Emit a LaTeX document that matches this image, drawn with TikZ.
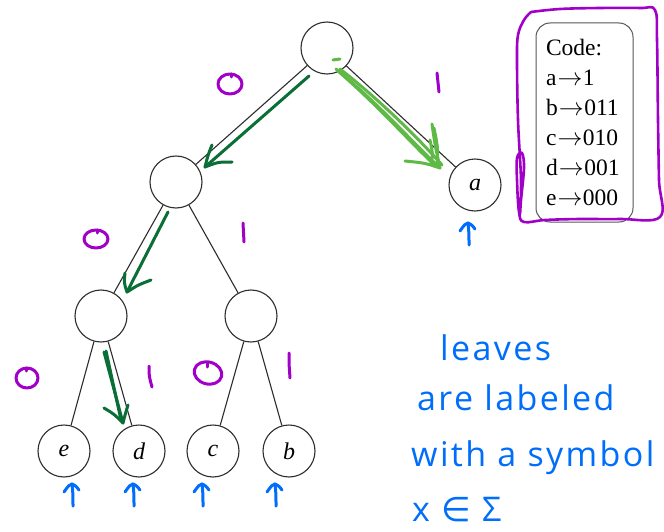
\documentclass[tikz,border=0pt]{standalone}
\usepackage{fontspec}
\setmainfont{Liberation Serif}
\newfontfamily\handfont[LetterSpace=7]{Open Sans}
\newfontfamily\symfont{DejaVu Sans}
\usetikzlibrary{calc}

\definecolor{inkpurple}{RGB}{160,0,200}
\definecolor{inkdkgreen}{RGB}{10,110,55}
\definecolor{inkltgreen}{RGB}{95,185,70}
\definecolor{inkblue}{RGB}{0,110,250}
\definecolor{edgegray}{RGB}{45,45,45}

\newcommand{\codearrow}{\kern0.05em$\to$\kern0.02em}

\begin{document}
\begin{tikzpicture}[x=1pt,y=-1pt,
  treenode/.style={circle,draw=edgegray,line width=1.1pt,minimum size=52pt,
    inner sep=0pt,font=\fontsize{24}{24}\selectfont\itshape},
  edge/.style={draw=edgegray,line width=1.1pt},
  pen/.style={line width=3pt,line cap=round,line join=round},
  codebox/.style={draw=edgegray!80,line width=1pt,rounded corners=14pt,
    minimum width=97pt,minimum height=199pt,text width=77pt,align=left,
    font=\fontsize{23.5}{30}\selectfont},
  hand/.style={text=inkblue,anchor=base west,inner sep=0pt,
    font=\handfont\fontsize{34}{34}\selectfont}
]
\useasboundingbox (0,0) rectangle (664,532);
\fill[white] (0,0) rectangle (664,532);

% ---- code tree ----
\node[treenode] (r)  at (327,48)  {};
\node[treenode] (l)  at (176,182) {};
\node[treenode] (a)  at (475,185) {a};
\node[treenode] (ll) at (101,316) {};
\node[treenode] (lr) at (251,316) {};
\node[treenode] (e)  at (64,451)  {e};
\node[treenode] (d)  at (139,451) {d};
\node[treenode] (c)  at (213,451) {c};
\node[treenode] (b)  at (289,451) {b};

\draw[edge] (r) -- (l);
\draw[edge] (r) -- (a);
\draw[edge] (l) -- (ll);
\draw[edge] (l) -- (lr);
\draw[edge] (ll) -- (e);
\draw[edge] (ll) -- (d);
\draw[edge] (lr) -- (c);
\draw[edge] (lr) -- (b);

% ---- code table ----
\node[codebox] (code) at (584.5,122.5)
  {Code:\\a\codearrow1\\b\codearrow011\\c\codearrow010\\d\codearrow001\\e\codearrow000};

% purple frame around the table
\draw[pen,inkpurple,line width=2.6pt] plot[smooth,tension=0.6] coordinates {
  (531,12) (560,9) (600,8) (640,8) (655,10) (657,40) (658,120) (659,180)
  (660,217) (620,219) (580,219) (545,220) (524,222) (519,212) (517,180)
  (517,158) (522,153) (524,168) (521,200) (520,214) (521,180) (518,120)
  (517,60) (518,35) (524,20) (531,12)};

% ---- bit labels ----
\draw[pen,inkpurple] (230,84) ellipse [x radius=12, y radius=10];
\draw[pen,inkpurple] (231,74) -- (231,77);
\draw[pen,inkpurple] (437,73) .. controls (438,82) .. (439,92);

\draw[pen,inkpurple] (96,239) ellipse [x radius=12, y radius=9];
\draw[pen,inkpurple] (97,230) -- (97,233);
\draw[pen,inkpurple] (243,223) .. controls (243,232) .. (244,242);

\draw[pen,inkpurple] (27,378) ellipse [x radius=11, y radius=10];
\draw[pen,inkpurple] (26,368) -- (26,371);
\draw[pen,inkpurple] (149,366) .. controls (149,376) .. (152,387);

\draw[pen,inkpurple,rotate around={-15:(208,373)}] (208,373) ellipse [x radius=14, y radius=11];
\draw[pen,inkpurple] (207,363) -- (207,367);
\draw[pen,inkpurple] (289,353) .. controls (289,364) .. (290,378);

% ---- path to d (dark green) ----
\draw[pen,inkdkgreen] (309,76) -- (205,167);
\draw[pen,inkdkgreen] (212,145) .. controls (208,155) .. (205,167) .. controls (218,162) .. (232,162);

\draw[pen,inkdkgreen] (168,212) -- (127,292);
\draw[pen,inkdkgreen] (125,273) .. controls (124,283) .. (127,292) .. controls (138,285) .. (151,280);

\draw[pen,inkdkgreen] (104,352) -- (123,423);
\draw[pen,inkdkgreen] (106,351) -- (121,420);
\draw[pen,inkdkgreen] (104,408) .. controls (114,414) .. (123,423) .. controls (125,415) .. (128,405);

% ---- path to a (light green) ----
\draw[pen,inkltgreen] (333,60) -- (340,59);
\draw[pen,inkltgreen] (336,69) .. controls (380,105) and (410,140) .. (440,168);
\draw[pen,inkltgreen] (338,71) .. controls (385,112) and (415,148) .. (436,166);
\draw[pen,inkltgreen] (340,69) .. controls (380,100) and (420,140) .. (442,165);
\draw[pen,inkltgreen] (432,124) .. controls (435,145) .. (440,168) .. controls (425,163) .. (405,161);
\draw[pen,inkltgreen] (434,128) .. controls (438,148) .. (437,165);
\draw[pen,inkltgreen] (430,140) .. controls (433,155) .. (431,163);

% ---- leaf markers (blue) ----
\foreach \px/\py in {72/484, 133/484, 202/484, 275/484, 468/223}{
  \draw[pen,inkblue] (\px,\py) .. controls (\px+1,\py+10) .. (\px+1,\py+22);
  \draw[pen,inkblue] (\px-8,\py+8) .. controls (\px-3,\py+1) .. (\px,\py)
                     .. controls (\px+4,\py+2) .. (\px+7,\py+6);
}

% ---- note ----
\node[hand] (n1) at (440,360) {leaves};
\node[hand] (n2) at (417,410) {are labeled};
\node[hand] (n3) at (411,466) {with a symbol};
\node[hand] (n4) at (412,521) {x {\symfont\addfontfeature{LetterSpace=0}∈} Σ};
\end{tikzpicture}
\end{document}
